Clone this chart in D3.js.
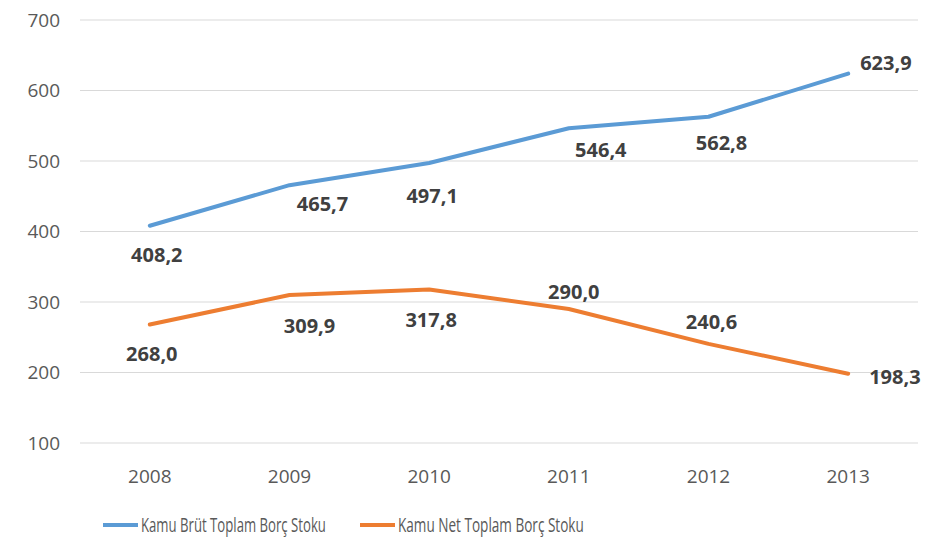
<!DOCTYPE html>
<html><head><meta charset="utf-8">
<script src="https://cdn.jsdelivr.net/npm/d3@7"></script>
<style>body{margin:0;background:#fff}svg{display:block}</style>
</head><body>
<script>
const years = ["2008","2009","2010","2011","2012","2013"];
const brut = [408.2, 465.7, 497.1, 546.4, 562.8, 623.9];
const net = [268.0, 309.9, 317.8, 290.0, 240.6, 198.3];
const yTicks = [100,200,300,400,500,600,700];
const seriesNames = ["Kamu Brüt Toplam Borç Stoku","Kamu Net Toplam Borç Stoku"];
const colors = ["#5B9BD5","#ED7D31"];
// label placement (layout only): [dx, dy, anchor]
const brutLabelLayout = [[7,29,"middle"],[33,18,"middle"],[3,32,"middle"],[32,21,"middle"],[13,26,"middle"],[12,-11,"start"]];
const netLabelLayout = [[2,29,"middle"],[20,30,"middle"],[2,30,"middle"],[5,-18,"middle"],[3,-22,"middle"],[21,3,"start"]];

const W=948,H=539;
const svg=d3.select("body").append("svg").attr("width",W).attr("height",H);
svg.append("rect").attr("width",W).attr("height",H).attr("fill","#fff");
const font="'Open Sans', sans-serif";
const x=d3.scaleBand().domain(years).range([80,918]);
const y=d3.scaleLinear().domain([100,700]).range([443,20]);
const cx=d=>x(d)+x.bandwidth()/2;

// grid
svg.append("g").selectAll("line").data(yTicks).join("line")
  .attr("x1",80).attr("x2",918).attr("y1",d=>y(d)).attr("y2",d=>y(d))
  .attr("stroke","#d9d9d9").attr("stroke-width",1.2);
// y axis labels
const yAxis=d3.axisLeft(y).tickValues(yTicks).tickSize(0).tickPadding(0).tickFormat(d3.format("d"));
const ya=svg.append("g").attr("transform","translate(60,0)").call(yAxis);
ya.select(".domain").remove();
ya.selectAll("text").attr("font-family",font).attr("font-size",19).attr("fill","#595959");
// x axis labels
const xAxis=d3.axisBottom(x).tickSize(0).tickPadding(0);
const xa=svg.append("g").attr("transform","translate(0,469)").call(xAxis);
xa.select(".domain").remove();
xa.selectAll("text").attr("font-family",font).attr("font-size",19).attr("fill","#595959");

const line=d3.line().x((d,i)=>cx(years[i])).y(d=>y(d));
[[brut,brutLabelLayout],[net,netLabelLayout]].forEach(([vals,lay],k)=>{
  svg.append("path").attr("d",line(vals)).attr("fill","none")
    .attr("stroke",colors[k]).attr("stroke-width",4).attr("stroke-linejoin","round").attr("stroke-linecap","round");
  svg.append("g").selectAll("text").data(vals).join("text")
    .attr("x",(d,i)=>cx(years[i])+lay[i][0])
    .attr("y",(d,i)=>y(d)+lay[i][1])
    .attr("text-anchor",(d,i)=>lay[i][2])
    .attr("dominant-baseline","central")
    .attr("font-family",font).attr("font-size",20).attr("font-weight","bold").attr("fill","#404040")
    .text(d=>d3.format(".1f")(d).replace(".",","));
});

// legend
const leg=[{x:103,w:185},{x:360,w:186}];
leg.forEach((l,k)=>{
  svg.append("line").attr("x1",l.x).attr("x2",l.x+35).attr("y1",525).attr("y2",525)
    .attr("stroke",colors[k]).attr("stroke-width",4);
  const t=svg.append("text").attr("x",0).attr("y",0).attr("dominant-baseline","central")
    .attr("font-family",font).attr("font-size",20).attr("fill","#595959")
    .text(seriesNames[k]);
  const nat=t.node().getComputedTextLength();
  t.attr("transform",`translate(${l.x+38},524) scale(${l.w/nat},1)`);
});
</script>
</body></html>
